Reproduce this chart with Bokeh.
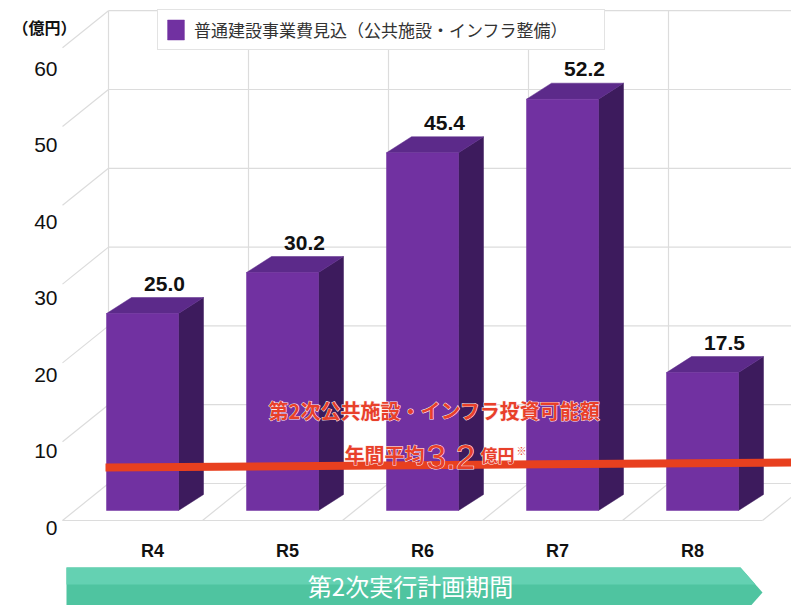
from bokeh.plotting import figure
from bokeh.models import ColumnDataSource, Legend, LegendItem, Range1d
from bokeh.core.properties import value
from bokeh.embed import file_html
from bokeh.resources import INLINE

# ---------------- data ----------------
categories = ["R4", "R5", "R6", "R7", "R8"]
values = [25.0, 30.2, 45.4, 52.2, 17.5]
value_labels = ["25.0", "30.2", "45.4", "52.2", "17.5"]
y_ticks = [0, 10, 20, 30, 40, 50, 60]
avg_line = [5.45, 6.1]          # red capacity line (visual height at left / right end)
series_name = "普通建設事業費見込（公共施設・インフラ整備）"
unit_label = "（億円）"
note_line1 = "第2次公共施設・インフラ投資可能額"
note_prefix = "年間平均"
note_value = "3.2"
note_unit = "億円"
note_mark = "※"
period_label = "第2次実行計画期間"

# ---------------- geometry helpers (pixels -> data) ----------------
W, H = 791, 605
PX = 140.0   # pixels per category
PY = 7.88    # pixels per value unit


def fx(px):
    return (px - 142.0) / PX


def fy(py):
    return (510.0 - py) / PY


BW = 72 / PX           # bar front width
BDX = 25 / PX          # bar depth (x)
BDY = 16 / PY          # bar depth (y)
FRONT_X, BACK_X = fx(62), fx(108)
FRONT_DY, BACK_DY = -10 / PY, 27 / PY
RIGHT = fx(800)
LABEL_SCALE = 76.5 / 78.8
LABEL_OFF = -2.16

CJK = "Noto Sans CJK JP"
LAT = "Liberation Sans"

FRONT_C = "#7131a1"
TOP_C = "#5c2a8a"
SIDE_C = "#3d1b5d"
GRID_C = "#dcdcdc"

p = figure(width=W, height=H, x_range=Range1d(fx(0), fx(W)), y_range=Range1d(fy(H), fy(0)),
           output_backend="svg", toolbar_location=None, min_border=0)
p.axis.visible = False
p.grid.visible = False
p.outline_line_color = None
p.background_fill_color = "white"
p.border_fill_color = "white"

# back wall grid
wx, wy = [], []
for v in y_ticks[1:]:
    wx.append([BACK_X, RIGHT]); wy.append([v + BACK_DY, v + BACK_DY])
for k in range(5):
    wx.append([BACK_X + k, BACK_X + k]); wy.append([BACK_DY, y_ticks[-1] + BACK_DY])
# left side wall diagonals
for v in y_ticks:
    wx.append([FRONT_X, BACK_X]); wy.append([v + FRONT_DY, v + BACK_DY])
# floor
wx.append([FRONT_X, FRONT_X + 5]); wy.append([FRONT_DY, FRONT_DY])
wx.append([BACK_X, RIGHT]); wy.append([BACK_DY, BACK_DY])
for k in range(1, 6):
    wx.append([FRONT_X + k, BACK_X + k]); wy.append([FRONT_DY, BACK_DY])
p.multi_line(xs=wx, ys=wy, line_color=GRID_C, line_width=1.2)

# 3D bars
idx = list(range(len(categories)))
src = ColumnDataSource(dict(
    left=[i - BW / 2 for i in idx], right=[i + BW / 2 for i in idx],
    bottom=[0] * len(idx), top=values))
side_xs, side_ys, top_xs, top_ys = [], [], [], []
for i, v in zip(idx, values):
    r = i + BW / 2
    l = i - BW / 2
    side_xs.append([r, r + BDX, r + BDX, r]); side_ys.append([0, BDY, v + BDY, v])
    top_xs.append([l, r, r + BDX, l + BDX]); top_ys.append([v, v, v + BDY, v + BDY])
p.patches(xs=side_xs, ys=side_ys, fill_color=SIDE_C, line_color=SIDE_C, line_width=0.5)
p.patches(xs=top_xs, ys=top_ys, fill_color=TOP_C, line_color=TOP_C, line_width=0.5)
front = p.quad(left="left", right="right", bottom="bottom", top="top", source=src,
               fill_color=FRONT_C, line_color=FRONT_C, line_width=0.5)

# red capacity line
p.line(x=[fx(105), RIGHT], y=avg_line, line_color="#e8401f", line_width=8)

# annotation (red text with a light halo)
RED = "#e8402a"
HALO = "#fde9ea"
ann = [
    dict(x=fx(434), y=fy(410), t=note_line1, font=CJK, style="bold", size="20px", align="center", base="middle"),
    dict(x=fx(424), y=fy(454), t=note_prefix, font=CJK, style="bold", size="20px", align="right", base="alphabetic"),
    dict(x=fx(426), y=fy(456), t=note_value, font=LAT, style="normal", size="35px", align="left", base="alphabetic"),
    dict(x=fx(480), y=fy(454), t=note_unit, font=CJK, style="bold", size="17px", align="left", base="alphabetic"),
]
for a in ann:
    p.text(x=[a["x"]], y=[a["y"]], text=[a["t"]], text_font=value(a["font"]), text_font_style=a["style"],
           text_font_size=a["size"], text_color=HALO, text_outline_color=HALO,
           text_align=a["align"], text_baseline=a["base"])
for a in ann:
    p.text(x=[a["x"]], y=[a["y"]], text=[a["t"]], text_font=value(a["font"]), text_font_style=a["style"],
           text_font_size=a["size"], text_color=RED,
           text_align=a["align"], text_baseline=a["base"])
p.text(x=[fx(516)], y=[fy(450)], text=[note_mark], text_font=value(CJK),
       text_font_size="10px", text_color=RED, text_align="left", text_baseline="middle")

# value labels
p.text(x=[i + 22 / PX for i in idx], y=[v + 30 / PY for v in values], text=value_labels,
       text_font=value(LAT), text_font_style="bold", text_font_size="21px", text_color="#111111",
       text_align="center", text_baseline="middle")

# y tick labels
p.text(x=[fx(57)] * len(y_ticks), y=[v * LABEL_SCALE + LABEL_OFF for v in y_ticks],
       text=[str(t) for t in y_ticks], text_font=value(LAT), text_font_size="21px",
       text_color="#111111", text_align="right", text_baseline="middle")
p.text(x=[fx(44)], y=[fy(26)], text=[unit_label], text_font=value(CJK), text_font_style="bold",
       text_font_size="16px", text_color="#111111", text_align="center", text_baseline="middle")

# category labels
p.text(x=[i * 135 / 140 + 10 / 140 for i in idx], y=[fy(550)] * len(idx), text=categories,
       text_font=value(LAT), text_font_style="bold", text_font_size="18px", text_color="#111111",
       text_align="center", text_baseline="middle")

# period banner
p.patch(x=[fx(66), fx(740), fx(762), fx(740), fx(66)], y=[fy(567), fy(567), fy(592), fy(617), fy(617)],
        fill_color="#4fc4a0", line_color=None)
p.patch(x=[fx(66), fx(740), fx(755), fx(66)], y=[fy(567), fy(567), fy(584), fy(584)],
        fill_color="#64d1b2", line_color=None)
p.text(x=[fx(410)], y=[fy(585)], text=[period_label], text_font=value(CJK), text_font_size="24px",
       text_color="white", text_align="center", text_baseline="middle")

# legend
legend = Legend(items=[LegendItem(label=series_name, renderers=[front])], location=(157, 555),
                glyph_width=21, glyph_height=25, label_standoff=8, padding=7, label_width=403,
                border_line_color="#c8c8c8", border_line_width=1.5, margin=0,
                label_text_font=CJK, label_text_font_size="17px", label_text_color="#333333",
                background_fill_color="white", background_fill_alpha=1.0)
p.add_layout(legend)

open("out.html", "w").write(file_html(p, INLINE))
